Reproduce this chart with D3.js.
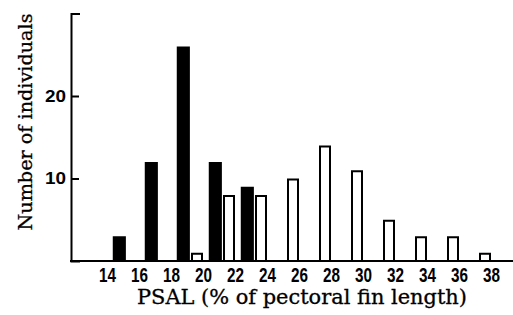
<!DOCTYPE html>
<html><head><meta charset="utf-8">
<script src="https://cdn.jsdelivr.net/npm/d3@7"></script>
<style>body{margin:0;background:#fff}svg{display:block}</style>
</head><body>
<script>
// PSAL bins (lower bound of each 2-unit class)
const binStarts = [14, 16, 18, 20, 22, 24, 26, 28, 30, 32, 34, 36];
const blackCounts = [3, 12, 26, 12, 9, 0, 0, 0, 0, 0, 0, 0];
const whiteCounts = [0, 0, 1, 8, 8, 10, 14, 11, 5, 3, 3, 1];
const xTickLabels = [14, 16, 18, 20, 22, 24, 26, 28, 30, 32, 34, 36, 38];
const yTickLabels = [10, 20];
const xTitle = "PSAL (% of pectoral fin length)";
const yTitle = "Number of individuals";

const W = 513, H = 315;
const svg = d3.select("body").append("svg").attr("width", W).attr("height", H);

const x = d3.scaleLinear().domain([14, 38]).range([107, 491]);
const y = d3.scaleLinear().domain([0, 30]).range([261, 13.5]);
const axisX = 71;

const bins = binStarts.map((b, i) => ({b, black: blackCounts[i], white: whiteCounts[i]}));

// black bars
svg.append("g").selectAll("rect").data(bins.filter(d => d.black > 0)).join("rect")
  .attr("x", d => x(d.b + 0.36))
  .attr("width", d => x(d.b + 1.18) - x(d.b + 0.36))
  .attr("y", d => y(d.black))
  .attr("height", d => y(0) - y(d.black))
  .attr("fill", "#000");

// white bars
svg.append("g").selectAll("rect").data(bins.filter(d => d.white > 0)).join("rect")
  .attr("x", d => x(d.b + 1.25) + 1)
  .attr("width", d => x(d.b + 2) - x(d.b + 1.25) - 2)
  .attr("y", d => y(d.white) + 1)
  .attr("height", d => y(0) - y(d.white) - 1)
  .attr("fill", "#fff").attr("stroke", "#000").attr("stroke-width", 2);

// baseline
svg.append("line").attr("x1", axisX - 1).attr("x2", W).attr("y1", y(0)).attr("y2", y(0))
  .attr("stroke", "#000").attr("stroke-width", 2);

// y axis
const gy = svg.append("g").attr("transform", `translate(${axisX},0)`)
  .call(d3.axisLeft(y).tickValues(yTickLabels).tickSizeInner(-8).tickSizeOuter(-9).tickPadding(5).tickFormat(d3.format("d")));
gy.select(".domain").attr("stroke", "#000").attr("stroke-width", 2);
gy.selectAll(".tick line").attr("stroke", "#000").attr("stroke-width", 2);
gy.selectAll(".tick text").attr("font-family", "Liberation Sans, Arial, sans-serif")
  .attr("font-weight", "bold").attr("font-size", 16.5).attr("fill", "#000")
  .attr("textLength", 21).attr("lengthAdjust", "spacingAndGlyphs");

// x axis labels
const gx = svg.append("g").attr("transform", `translate(0,${y(0)})`)
  .call(d3.axisBottom(x).tickValues(xTickLabels).tickSize(0).tickPadding(7).tickFormat(d3.format("d")));
gx.select(".domain").remove();
gx.selectAll(".tick text").attr("font-family", "Liberation Sans, Arial, sans-serif")
  .attr("font-weight", "bold").attr("font-size", 19.5).attr("fill", "#000")
  .attr("textLength", 17).attr("lengthAdjust", "spacingAndGlyphs");

// titles
svg.append("text").attr("x", 302).attr("y", 304).attr("text-anchor", "middle")
  .attr("font-family", "DejaVu Serif, serif").attr("font-size", 19.5).attr("fill", "#000")
  .attr("stroke", "#000").attr("stroke-width", 0.3)
  .attr("textLength", 330).attr("lengthAdjust", "spacingAndGlyphs").text(xTitle);

svg.append("text").attr("transform", "translate(32,122) rotate(-90)").attr("text-anchor", "middle")
  .attr("font-family", "DejaVu Serif, serif").attr("font-size", 18).attr("fill", "#000")
  .attr("stroke", "#000").attr("stroke-width", 0.3)
  .attr("textLength", 217).attr("lengthAdjust", "spacingAndGlyphs").text(yTitle);
</script>
</body></html>
